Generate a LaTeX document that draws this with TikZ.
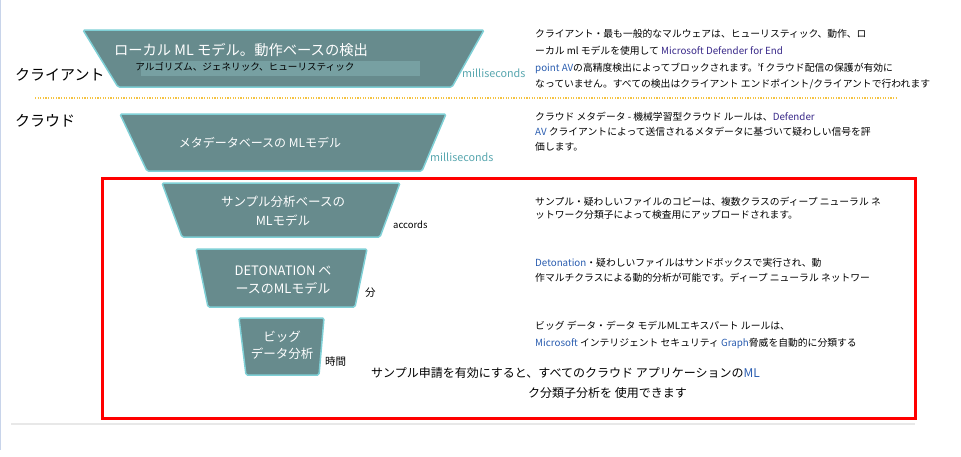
\documentclass[tikz,border=0pt]{standalone}
\usepackage{fontspec}
\setmainfont{Noto Sans CJK JP}
\definecolor{funfill}{HTML}{678B8D}
\definecolor{funedge}{HTML}{7FD0D6}
\definecolor{bandc}{HTML}{77A0A2}
\definecolor{msc}{HTML}{5AA8B0}
\definecolor{lnk}{HTML}{2A5DB0}
\definecolor{lnkd}{HTML}{3A2A8A}
\definecolor{dotc}{HTML}{F5C342}
\tikzset{
  funnel/.style={fill=funfill, draw=funedge, line width=1.5pt, rounded corners=1.5pt},
  intext/.style={text=white, inner sep=0pt, font=\fontsize{12.5}{15}\selectfont},
  sidelbl/.style={anchor=west, inner sep=0pt, font=\fontsize{15}{18}\selectfont},
  desc/.style={anchor=west, inner sep=0pt, font=\fontsize{9.8}{12}\selectfont},
  msec/.style={anchor=west, inner sep=0pt, text=msc, font=\fontsize{10.8}{12}\selectfont},
  unit/.style={anchor=west, inner sep=0pt, font=\fontsize{10.5}{12}\selectfont},
  foot/.style={anchor=west, inner sep=0pt, font=\fontsize{12}{14}\selectfont}
}
\begin{document}
\begin{tikzpicture}[x=1pt,y=-1pt]
\useasboundingbox (0,0) rectangle (961,456);
\fill[white] (0,0) rectangle (961,456);
% page edges
\draw[color={rgb,255:red,200;green,212;blue,234}, line width=1.2pt] (0.6,0) -- (0.6,450);
\draw[color={rgb,255:red,232;green,232;blue,232}, line width=1.5pt] (11,424) -- (915,424);
% divider
\draw[dotc, line width=2pt, dash pattern=on 1.2pt off 1.4pt] (35,98) -- (897,98);
% red frame
\draw[red, line width=3pt] (102,178) rectangle (915,418);

% funnels
\draw[funnel] (83,30) -- (484,30) -- (452,87) -- (118,87) -- cycle;
\fill[bandc] (141,61) rectangle (420,76);
\draw[funnel] (120,114) -- (446,114) -- (422,171) -- (147,171) -- cycle;
\draw[funnel] (162,183) -- (400,183) -- (380,237) -- (182,237) -- cycle;
\draw[funnel] (196,249) -- (367,249) -- (355,307) -- (208,307) -- cycle;
\draw[funnel] (239,318) -- (324,318) -- (319,375) -- (246,375) -- cycle;

% funnel texts
\node[intext, font=\fontsize{14.3}{17}\selectfont] (t1a) at (241,50) {ローカル ML モデル。動作ベースの検出};
\node[intext, text=black, font=\fontsize{9.6}{11}\selectfont] (t1b) at (245,67) {アルゴリズム、ジェネリック、ヒューリスティック};
\node[intext, font=\fontsize{12}{14}\selectfont] (t2) at (260,143) {メタデータベースの MLモデル};
\node[intext] (t3a) at (283,202) {サンプル分析ベースの};
\node[intext] (t3b) at (283,221) {MLモデル};
\node[intext, font=\fontsize{13}{15}\selectfont] (t4a) at (283,271) {DETONATION ベ};
\node[intext, font=\fontsize{13}{15}\selectfont] (t4b) at (283,288) {ースのMLモデル};
\node[intext] (t5a) at (282,337) {ビッグ};
\node[intext] (t5b) at (282,354) {データ分析};

% side labels
\node[sidelbl] (client) at (15,75) {クライアント};
\node[sidelbl] (cloud) at (15,121) {クラウド};

% timing labels
\node[msec] (ms1) at (462,73) {milliseconds};
\node[msec] (ms2) at (430,157) {milliseconds};
\node[unit, font=\fontsize{9.5}{11}\selectfont] (acc) at (393,225) {accords};
\node[unit] (fun) at (365,293) {分};
\node[unit] (hrs) at (325,362) {時間};

% descriptions
\node[desc] (d1a) at (535,34) {クライアント・最も一般的なマルウェアは、ヒューリスティック、動作、ロ};
\node[desc] (d1b) at (535,51) {ーカル ml モデルを使用して \textcolor{lnkd}{Microsoft Defender for End}};
\node[desc] (d1c) at (535,68) {\textcolor{lnk}{point AV}の高精度検出によってブロックされます。'f クラウド配信の保護が有効に};
\node[desc] (d1d) at (535,84) {なっていません。すべての検出はクライアント エンドポイント/クライアントで行われます};

\node[desc] (d2a) at (535,117) {クラウド メタデータ - 機械学習型クラウド ルールは、\textcolor{lnkd}{Defender}};
\node[desc] (d2b) at (535,132) {\textcolor{lnk}{AV} クライアントによって送信されるメタデータに基づいて疑わしい信号を評};
\node[desc] (d2c) at (535,147) {価します。};

\node[desc] (d3a) at (535,202) {サンプル・疑わしいファイルのコピーは、複数クラスのディープ ニューラル ネ};
\node[desc] (d3b) at (535,215) {ットワーク分類子によって検査用にアップロードされます。};

\node[desc] (d4a) at (535,263) {\textcolor{lnk}{Detonation}・疑わしいファイルはサンドボックスで実行され、動};
\node[desc] (d4b) at (535,278) {作マルチクラスによる動的分析が可能です。ディープ ニューラル ネットワー};

\node[desc] (d5a) at (535,326) {ビッグ データ・データ モデルMLエキスパート ルールは、};
\node[desc] (d5b) at (535,343) {\textcolor{lnk}{Microsoft} インテリジェント セキュリティ \textcolor{lnk}{Graph}脅威を自動的に分類する};

% footer
\node[foot] (f1) at (371,373) {サンプル申請を有効にすると、すべてのクラウド アプリケーションの\textcolor{lnk}{ML}};
\node[foot] (f2) at (528,393) {ク分類子分析を 使用できます};
\end{tikzpicture}
\end{document}
